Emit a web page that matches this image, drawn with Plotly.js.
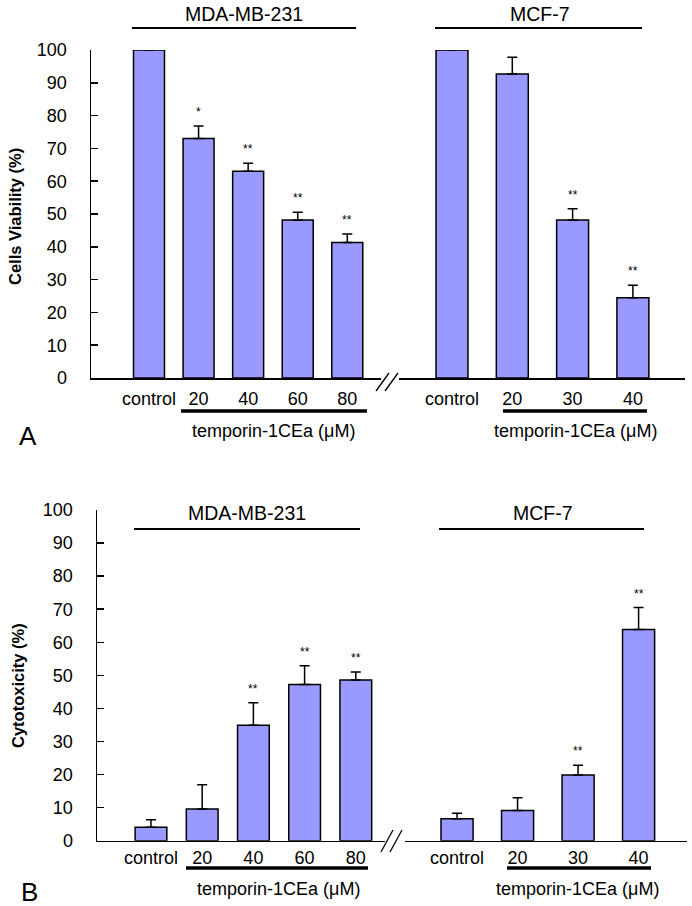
<!DOCTYPE html>
<html>
<head>
<meta charset="utf-8">
<script src="https://cdn.plot.ly/plotly-3.0.1.min.js"></script>
<style>html,body{margin:0;padding:0;background:#fff;}#chart{width:692px;height:906px;}</style>
</head>
<body>
<div id="chart"></div>
<script>
// ---- data ----
var mdaCats = ['control', '20', '40', '60', '80'];
var mcfCats = ['control', '20', '30', '40'];

var viabMDA = [100, 73, 63, 48.2, 41.3];
var viabMDAErr = [2.5, 3.8, 2.5, 2.3, 2.6];
var viabMDASig = ['', '*', '**', '**', '**'];

var viabMCF = [100, 92.7, 48.2, 24.5];
var viabMCFErr = [2.2, 5.1, 3.4, 3.8];
var viabMCFSig = ['', '', '**', '**'];

var cytoMDA = [4.1, 9.6, 34.9, 47.2, 48.6];
var cytoMDAErr = [2.2, 7.3, 6.8, 5.7, 2.4];
var cytoMDASig = ['', '', '**', '**', '**'];

var cytoMCF = [6.6, 9.1, 19.9, 63.9];
var cytoMCFErr = [1.7, 3.9, 2.9, 6.6];
var cytoMCFSig = ['', '', '**', '**'];

var groupNames = ['MDA-MB-231', 'MCF-7'];
var treatLabel = 'temporin-1CEa (μM)';

// ---- helpers ----
var W = 692, H = 906;
function px(x) { return x / W; }
function py(y) { return 1 - y / H; }
var FONT = 'Arial, Liberation Sans, sans-serif';
var barColor = '#9999ff';

function zeros(a) { return a.map(function () { return 0; }); }

function barTrace(cats, vals, errs, xa, ya, width) {
  return {
    type: 'bar', x: cats, y: vals, xaxis: xa, yaxis: ya,
    width: width,
    marker: { color: barColor, line: { color: '#000', width: 1.5 } },
    error_y: { type: 'data', symmetric: false, array: errs, arrayminus: zeros(errs),
               color: '#000', thickness: 1.5, width: 5 },
    cliponaxis: false, hoverinfo: 'skip', showlegend: false
  };
}

var data = [
  barTrace(mdaCats, viabMDA, viabMDAErr, 'x', 'y', 0.625),
  barTrace(mcfCats, viabMCF, viabMCFErr, 'x2', 'y', 0.53),
  barTrace(mdaCats, cytoMDA, cytoMDAErr, 'x3', 'y2', 0.62),
  barTrace(mcfCats, cytoMCF, cytoMCFErr, 'x4', 'y2', 0.53)
];

var annotations = [];
function sigAnn(cats, vals, errs, sig, xref, yref) {
  cats.forEach(function (c, i) {
    if (!sig[i]) return;
    annotations.push({ xref: xref, yref: yref, x: i, y: vals[i] + errs[i],
      text: sig[i], showarrow: false, yanchor: 'bottom', yshift: 5,
      font: { family: FONT, size: 12, color: '#000' } });
  });
}
sigAnn(mdaCats, viabMDA, viabMDAErr, viabMDASig, 'x', 'y');
sigAnn(mcfCats, viabMCF, viabMCFErr, viabMCFSig, 'x2', 'y');
sigAnn(mdaCats, cytoMDA, cytoMDAErr, cytoMDASig, 'x3', 'y2');
sigAnn(mcfCats, cytoMCF, cytoMCFErr, cytoMCFSig, 'x4', 'y2');

function textAnn(text, x, y, size, opts) {
  var a = { xref: 'paper', yref: 'paper', x: px(x), y: py(y), text: text, showarrow: false,
    xanchor: 'center', yanchor: 'middle', font: { family: FONT, size: size, color: '#000' } };
  for (var k in opts) a[k] = opts[k];
  annotations.push(a);
}
// group labels
textAnn(groupNames[0], 244, 14, 19.5);
textAnn(groupNames[1], 540, 14, 19.5);
textAnn(groupNames[0], 247, 513, 19.5);
textAnn(groupNames[1], 543, 513, 19.5);
// treatment labels
textAnn(treatLabel, 273, 431, 18);
textAnn(treatLabel, 575, 431, 18);
textAnn(treatLabel, 278, 889, 18);
textAnn(treatLabel, 577, 889, 18);
// panel letters
textAnn('A', 27.5, 436, 26);
textAnn('B', 29.5, 892, 26);
// y titles
textAnn('<b>Cells Viability (%)</b>', 15, 217, 16.5, { textangle: -90 });
textAnn('<b>Cytotoxicity (%)</b>', 18, 686, 16.5, { textangle: -90 });

var shapes = [];
function hline(x0, x1, y, w) {
  shapes.push({ type: 'line', xref: 'paper', yref: 'paper', x0: px(x0), x1: px(x1), y0: py(y), y1: py(y),
    line: { color: '#000', width: w } });
}
function seg(x0, y0, x1, y1) {
  shapes.push({ type: 'line', xref: 'paper', yref: 'paper', x0: px(x0), x1: px(x1), y0: py(y0), y1: py(y1),
    line: { color: '#000', width: 1.3 } });
}
// group lines
hline(132, 356, 28, 2.2);
hline(435, 642, 28, 2.2);
hline(134, 360, 529, 2.2);
hline(439, 644, 529, 2.2);
// treatment lines
hline(181, 367, 411, 3.5);
hline(503, 647, 411, 3.5);
hline(186, 368, 868, 3.5);
hline(507, 651, 868, 3.5);
// axis break marks
seg(376, 391, 389, 373);
seg(385, 391, 398, 373);
seg(381, 852, 393, 830);
seg(390, 852, 402, 830);

function xAxis(domain, range, anchor, standoff) {
  return { domain: domain, range: range, anchor: anchor, type: 'category',
    showline: true, linecolor: '#000', linewidth: 1.5, ticks: '', showgrid: false,
    zeroline: false, fixedrange: true, ticklabelstandoff: standoff,
    tickfont: { family: FONT, size: 18, color: '#000' } };
}
function yAxis(domain, anchor) {
  return { domain: domain, range: [0, 100], anchor: anchor, dtick: 10, tick0: 0,
    showline: true, linecolor: '#000', linewidth: 1.5, ticks: 'inside', ticklen: 7,
    tickwidth: 1.5, tickcolor: '#000', showgrid: false, zeroline: false, fixedrange: true,
    ticklabelstandoff: 19,
    tickfont: { family: FONT, size: 18, color: '#000' } };
}

var layout = {
  width: W, height: H,
  margin: { l: 0, r: 0, t: 0, b: 0 },
  paper_bgcolor: '#fff', plot_bgcolor: 'rgba(0,0,0,0)',
  showlegend: false,
  bargap: 0,
  xaxis: xAxis([px(91), px(381)], [-1.17, 4.68], 'y', 4),
  xaxis2: xAxis([px(399), px(685)], [-0.879, 3.864], 'y', 4),
  xaxis3: xAxis([px(97), px(385)], [-1.054, 4.57], 'y2', 0),
  xaxis4: xAxis([px(405), px(687)], [-0.86, 3.80], 'y2', 0),
  yaxis: yAxis([py(378), py(50)], 'x'),
  yaxis2: yAxis([py(840.7), py(510)], 'x3'),
  annotations: annotations,
  shapes: shapes
};

Plotly.newPlot('chart', data, layout, { staticPlot: true, displayModeBar: false });
</script>
</body>
</html>
